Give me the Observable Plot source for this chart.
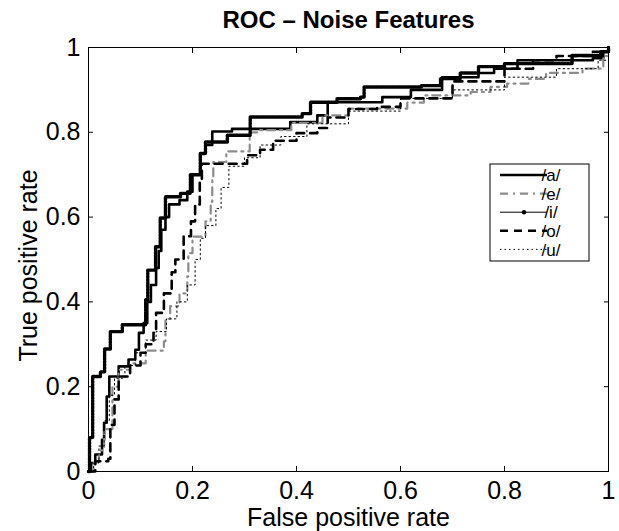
<!DOCTYPE html>
<html><head><meta charset="utf-8">
<script src="https://cdn.jsdelivr.net/npm/d3@7"></script>
<script src="https://cdn.jsdelivr.net/npm/@observablehq/plot@0.6"></script>
<style>
body{margin:0;background:#fff}
svg{font-family:"Liberation Sans",Arial,Helvetica,sans-serif}
</style>
</head><body><div id="chart"></div>
<script>
const titleText = "ROC – Noise Features";
const xLabel = "False positive rate";
const yLabel = "True positive rate";
const tickValues = [0, 0.2, 0.4, 0.6, 0.8, 1];
const tickLabels = ["0", "0.2", "0.4", "0.6", "0.8", "1"];
const seriesNames = ["/a/", "/e/", "/i/", "/o/", "/u/"];

const fprA = [0,0.005,0.013,0.026,0.03,0.035,0.04,0.058,0.077,0.09,0.097,0.106,0.113,0.12,0.13,0.135,0.14,0.148,0.155,0.175,0.19,0.2,0.215,0.225,0.238,0.276,0.388,0.44,0.46,0.56,0.565,0.613,0.62,0.68,0.75,0.78,0.825,0.97,0.99,1];
const tprA = [0,0.02,0.04,0.075,0.115,0.177,0.224,0.248,0.264,0.287,0.327,0.35,0.40,0.44,0.48,0.52,0.57,0.60,0.63,0.64,0.66,0.70,0.75,0.77,0.802,0.808,0.824,0.84,0.871,0.871,0.883,0.883,0.90,0.93,0.94,0.95,0.97,0.975,0.99,1];

const fprE = [0,0.01,0.02,0.03,0.046,0.058,0.08,0.11,0.145,0.148,0.157,0.175,0.19,0.192,0.2,0.225,0.235,0.238,0.24,0.265,0.31,0.33,0.39,0.45,0.5,0.613,0.645,0.735,0.773,0.805,0.846,0.88,0.95,0.99,1];
const tprE = [0,0.02,0.05,0.10,0.20,0.24,0.255,0.285,0.307,0.36,0.39,0.42,0.46,0.515,0.554,0.59,0.636,0.69,0.73,0.755,0.80,0.805,0.822,0.84,0.856,0.87,0.887,0.895,0.907,0.915,0.926,0.94,0.95,0.98,1];

const fprI = [0,0.002,0.008,0.023,0.031,0.042,0.065,0.11,0.114,0.129,0.138,0.148,0.177,0.196,0.215,0.225,0.267,0.311,0.411,0.427,0.478,0.523,0.53,0.64,0.677,0.715,0.75,0.8,0.93,0.985,1];
const tprI = [0,0.08,0.224,0.235,0.289,0.33,0.346,0.405,0.475,0.53,0.598,0.648,0.656,0.70,0.75,0.777,0.793,0.836,0.844,0.871,0.879,0.883,0.907,0.91,0.927,0.94,0.955,0.962,0.981,0.99,1];

const fprO = [0,0.013,0.038,0.042,0.05,0.058,0.08,0.10,0.11,0.125,0.13,0.145,0.16,0.167,0.183,0.197,0.205,0.214,0.218,0.305,0.33,0.355,0.40,0.44,0.46,0.50,0.555,0.60,0.70,0.80,0.855,0.90,0.97,1];
const tprO = [0,0.024,0.03,0.11,0.17,0.224,0.25,0.28,0.30,0.327,0.374,0.42,0.47,0.50,0.555,0.59,0.63,0.69,0.726,0.746,0.759,0.78,0.798,0.81,0.835,0.855,0.86,0.88,0.92,0.95,0.97,0.98,0.99,1];

const fprU = [0,0.01,0.02,0.03,0.04,0.05,0.07,0.09,0.11,0.13,0.15,0.17,0.19,0.205,0.215,0.225,0.245,0.255,0.27,0.30,0.33,0.37,0.42,0.50,0.60,0.70,0.80,0.90,0.98,1];
const tprU = [0,0.02,0.06,0.12,0.18,0.22,0.25,0.28,0.31,0.33,0.36,0.40,0.44,0.50,0.55,0.58,0.62,0.67,0.72,0.74,0.77,0.79,0.82,0.85,0.88,0.90,0.93,0.95,0.97,1];

const seriesFpr = [fprA, fprE, fprI, fprO, fprU];
const seriesTpr = [tprA, tprE, tprI, tprO, tprU];
const rows = seriesNames.map((name, k) => seriesFpr[k].map((x, j) => ({series: name, fpr: x, tpr: seriesTpr[k][j]})));

const styles = {
  "/a/": {stroke: "black", strokeWidth: 2.6},
  "/e/": {stroke: "#8c8c8c", strokeWidth: 2.2, strokeDasharray: "8,5,2,5"},
  "/i/": {stroke: "black", strokeWidth: 1},
  "/o/": {stroke: "black", strokeWidth: 2.6, strokeDasharray: "8,6"},
  "/u/": {stroke: "black", strokeWidth: 1, strokeDasharray: "1.5,3"}
};

const W = 619, H = 531;
const fontSize = 25;
const lineMarks = rows.map((r, k) => Plot.line(r, {x: "fpr", y: "tpr", curve: "step-after", ...styles[seriesNames[k]]}));
const iMarkers = Plot.line(rows[2], {x: "fpr", y: "tpr", curve: "step-after", stroke: "black", strokeWidth: 3.4, strokeDasharray: "2.2,1"});

const fmt = d => tickLabels[tickValues.indexOf(d)];
const chart = Plot.plot({
  width: W, height: H,
  marginLeft: 88, marginRight: 11, marginTop: 47, marginBottom: 60,
  x: {domain: [0, 1]},
  y: {domain: [0, 1]},
  style: {fontFamily: "Liberation Sans, Arial, sans-serif", background: "white", overflow: "visible"},
  marks: [
    ...lineMarks.slice(0, 2), lineMarks[3], lineMarks[4], iMarkers, lineMarks[2],
    Plot.frame({stroke: "black", strokeWidth: 1}),
    Plot.axisX({ticks: tickValues, tickSize: -5, tickFormat: () => "", label: null}),
    Plot.axisX({anchor: "top", ticks: tickValues, tickSize: -5, tickFormat: () => "", label: null}),
    Plot.axisY({ticks: tickValues, tickSize: -5, tickFormat: () => "", label: null}),
    Plot.axisY({anchor: "right", ticks: tickValues, tickSize: -5, tickFormat: () => "", label: null}),
    Plot.axisX({ticks: tickValues, tickSize: 0, tickPadding: 10, tickFormat: fmt, fontSize, label: null, fill: "black"}),
    Plot.axisY({ticks: tickValues, tickSize: 0, tickPadding: 8, tickFormat: fmt, fontSize, label: null, fill: "black"}),
    Plot.text([xLabel], {frameAnchor: "bottom", dy: 54, fontSize, fill: "black"}),
    Plot.text([yLabel], {frameAnchor: "left", dx: -60, dy: 6, rotate: -90, textAnchor: "middle", fontSize, fill: "black"}),
    Plot.text([titleText], {frameAnchor: "top", dy: -37, fontSize: 24, fontWeight: "bold", fill: "black"})
  ]
});
document.getElementById("chart").appendChild(chart);

// legend
const svg = d3.select(chart);
const lg = svg.append("g");
const lx = 490, ly = 164, lw = 99, lh = 97;
lg.append("rect").attr("x", lx).attr("y", ly).attr("width", lw).attr("height", lh).attr("fill", "white").attr("stroke", "black");
seriesNames.forEach((name, k) => {
  const y = 175 + k * 18.6;
  const s = styles[name];
  lg.append("line").attr("x1", 500).attr("x2", 547).attr("y1", y).attr("y2", y)
    .attr("stroke", s.stroke).attr("stroke-width", s.strokeWidth).attr("stroke-dasharray", s.strokeDasharray || null);
  if (name === "/i/") lg.append("circle").attr("cx", 524).attr("cy", y).attr("r", 2.2).attr("fill", "black");
  lg.append("text").attr("x", 551).attr("y", y).attr("dy", "0.36em").attr("font-size", 17).text(name);
});
</script>
</body></html>
